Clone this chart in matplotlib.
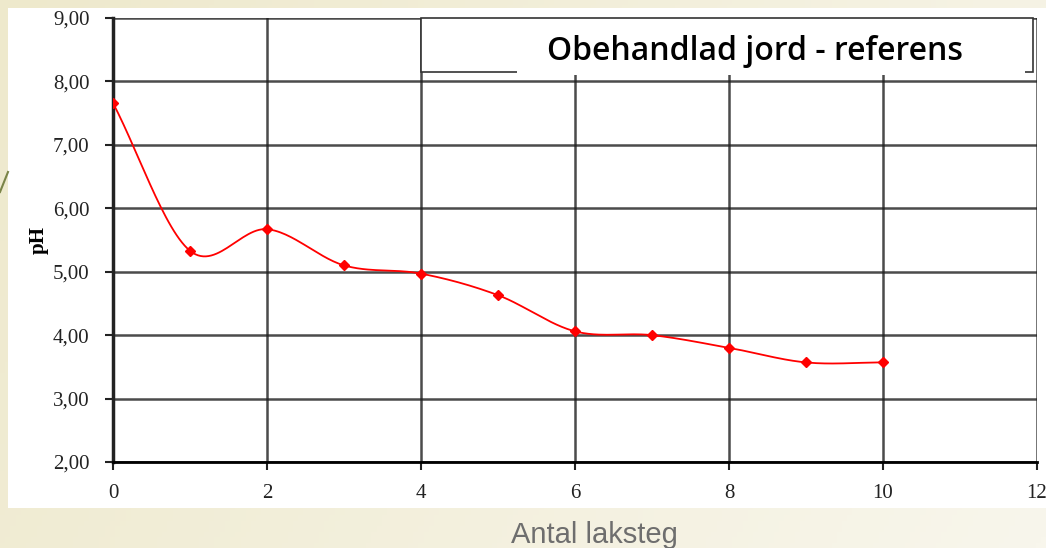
import numpy as np
import matplotlib.pyplot as plt
from matplotlib.patches import Rectangle
from matplotlib.lines import Line2D
from matplotlib.colors import LinearSegmentedColormap

# data
steps = [0, 1, 2, 3, 4, 5, 6, 7, 8, 9, 10]
ph = [7.66, 5.33, 5.67, 5.10, 4.97, 4.63, 4.06, 4.00, 3.80, 3.57, 3.57]
y_ticks = [2, 3, 4, 5, 6, 7, 8, 9]
x_ticks = [0, 2, 4, 6, 8, 10, 12]
title = "Obehandlad jord - referens"


def smooth(x, y, n=30):
    # catmull-rom, like excel's "smoothed line"
    x = np.asarray(x, float)
    y = np.asarray(y, float)
    px = np.concatenate([[2 * x[0] - x[1]], x, [2 * x[-1] - x[-2]]])
    py = np.concatenate([[2 * y[0] - y[1]], y, [2 * y[-1] - y[-2]]])
    xs, ys = [], []
    t = np.linspace(0, 1, n)
    for i in range(1, len(px) - 2):
        for p, out in ((px, xs), (py, ys)):
            p0, p1, p2, p3 = p[i - 1], p[i], p[i + 1], p[i + 2]
            out.append(0.5 * (2 * p1 + (-p0 + p2) * t
                              + (2 * p0 - 5 * p1 + 4 * p2 - p3) * t ** 2
                              + (-p0 + 3 * p1 - 3 * p2 + p3) * t ** 3))
    return np.concatenate(xs), np.concatenate(ys)


W, H = 1046, 548
fig = plt.figure(figsize=(W / 100, H / 100), dpi=100)

# slide background
bg = fig.add_axes([0, 0, 1, 1])
gx = np.linspace(0, 1, 200)
gy = np.linspace(0, 1, 100)
G = np.add.outer(gy * 0.3, gx)
bg.imshow(G, cmap=LinearSegmentedColormap.from_list("b", ["#eee9cc", "#f8f6ec"]),
          aspect="auto", extent=[0, 1, 0, 1])
bg.set_xlim(0, 1)
bg.set_ylim(0, 1)
bg.axis("off")
bg.add_line(Line2D([0, 8 / W], [1 - 192 / H, 1 - 172 / H], color="#7a8448", lw=1.5))
bg.add_patch(Rectangle((8 / W, 1 - 508 / H), 1, 500 / H, facecolor="white", edgecolor="none"))

ax = fig.add_axes([113 / W, 1 - 462 / H, (1037 - 113) / W, (462 - 18) / H])
ax.set_facecolor("white")
sx, sy = smooth(steps, ph)
ax.plot(sx, sy, color="red", lw=1.3, zorder=4)
ax.plot(steps, ph, linestyle="none", marker="D", markersize=5, color="red", zorder=5)

ax.set_xlim(0, 12)
ax.set_ylim(2, 9)
ax.set_xticks(x_ticks)
ax.set_yticks(y_ticks)
ax.set_xticklabels([str(v) for v in x_ticks])
ax.set_yticklabels([f"{v:.2f}".replace(".", ",") for v in y_ticks])
ax.grid(True, color="#1e1e1e", lw=1.8, alpha=0.8)
ax.set_axisbelow(True)
for s in ["top", "right"]:
    ax.spines[s].set_visible(False)
ax.spines["left"].set_linewidth(2.5)
ax.spines["left"].set_color("#222222")
ax.spines["bottom"].set_linewidth(2)
ax.tick_params(direction="out", length=6, width=1.5, color="#222222",
               labelsize=15)
ax.tick_params(axis="y", pad=11)
ax.tick_params(axis="x", pad=10)
for lab in ax.get_xticklabels() + ax.get_yticklabels():
    lab.set_fontfamily("Liberation Serif")
    lab.set_color("#222222")
ax.set_ylabel("pH", fontfamily="Liberation Serif", fontweight="bold",
              fontsize=15, labelpad=3)

# title box
ax.add_patch(Rectangle((4.0, 8.15), 7.95, 0.85, facecolor="white",
                       edgecolor="#333333", lw=1.2, zorder=6, clip_on=False))
ax.add_patch(Rectangle((5.25, 8.1), 6.6, 0.85, facecolor="white",
                       edgecolor="none", zorder=7))
ax.text(8.34, 8.34, title, ha="center", va="baseline", fontsize=23,
        fontfamily="Open Sans", fontweight="semibold", zorder=8)

fig.text(594 / W, 1 - 543 / H, "Antal laksteg",
         ha="center", va="baseline", fontsize=21, color="#6e6e6e",
         fontfamily="Liberation Sans")

fig.savefig("out.png", dpi=100)
